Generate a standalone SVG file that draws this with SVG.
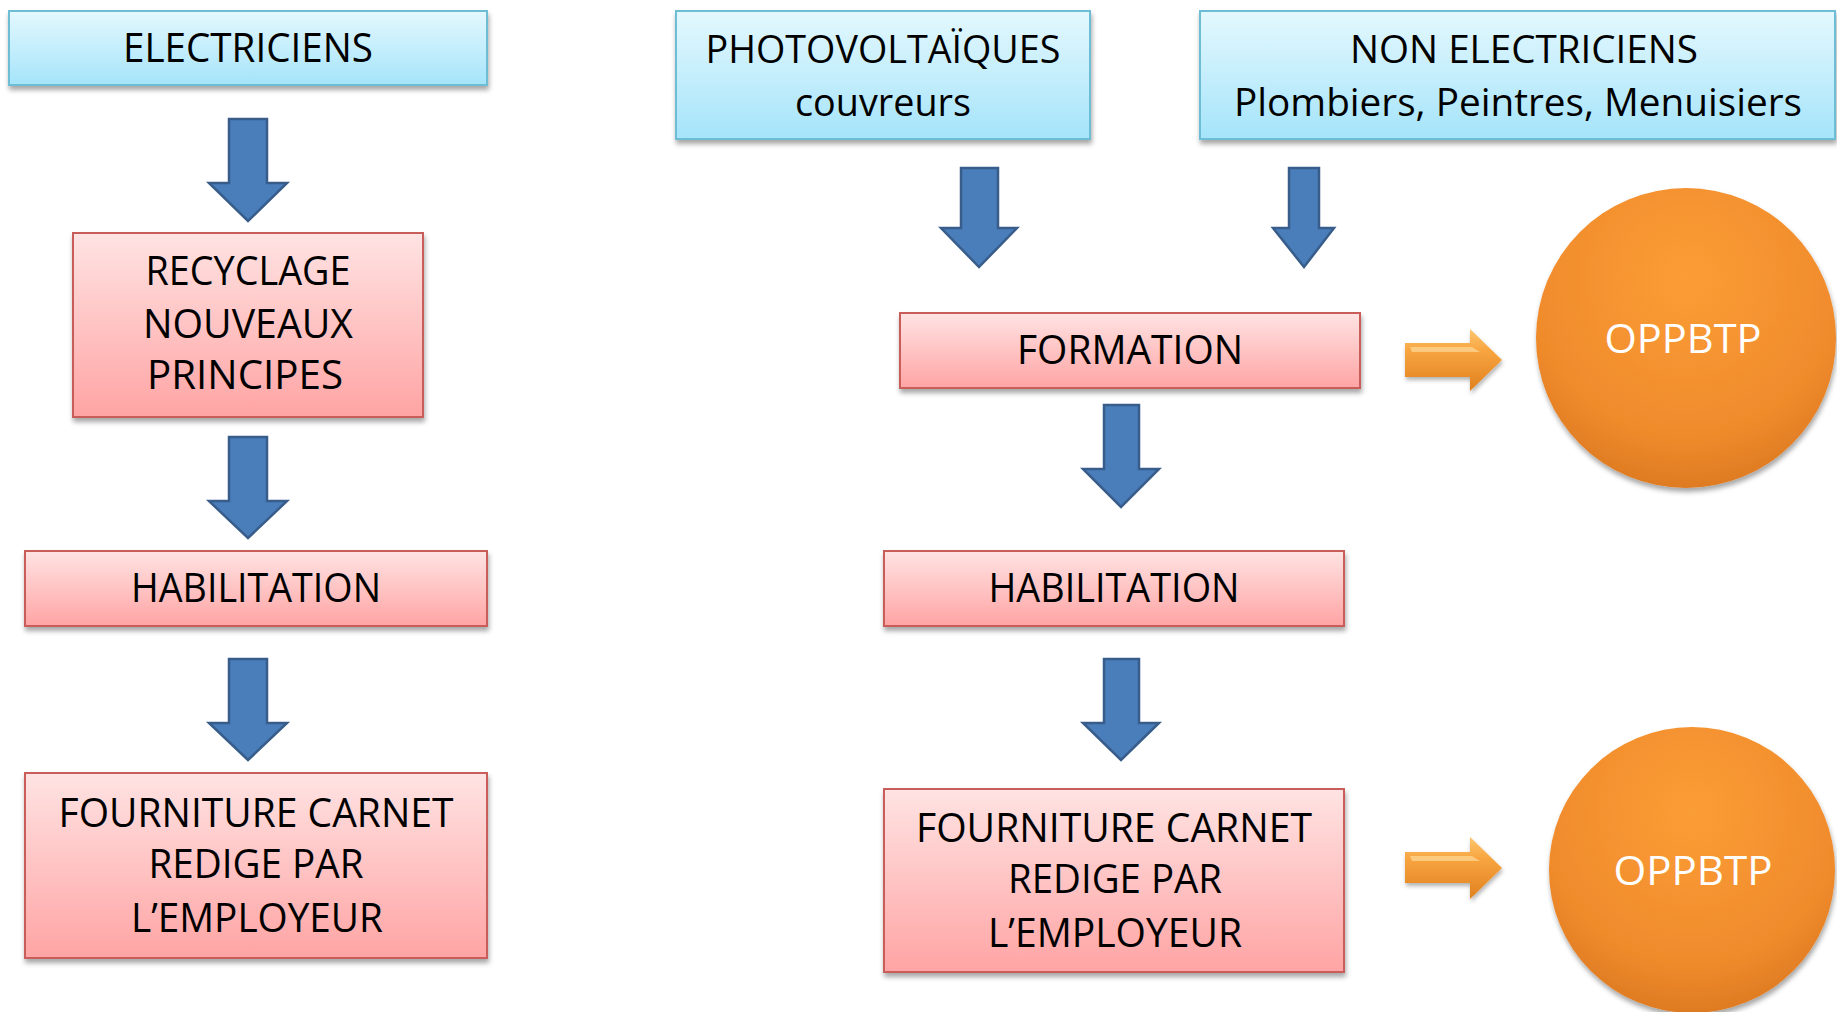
<svg xmlns="http://www.w3.org/2000/svg" width="1837" height="1012" viewBox="0 0 1837 1012">
<defs>
<linearGradient id="gBlue" x1="0" y1="0" x2="0" y2="1">
<stop offset="0" stop-color="#e4f8fe"/><stop offset="1" stop-color="#a5e4fa"/>
</linearGradient>
<linearGradient id="gPink" x1="0" y1="0" x2="0" y2="1">
<stop offset="0" stop-color="#ffe3e3"/><stop offset="1" stop-color="#ffa4a4"/>
</linearGradient>
<linearGradient id="gOrangeArrow" x1="0" y1="0" x2="0" y2="1">
<stop offset="0" stop-color="#fcc66e"/><stop offset="0.35" stop-color="#f8a540"/><stop offset="1" stop-color="#e0801e"/>
</linearGradient>
<radialGradient id="gCircle" cx="0.5" cy="0.3" r="0.75">
<stop offset="0" stop-color="#fb9d35"/><stop offset="0.7" stop-color="#f08b2c"/><stop offset="1" stop-color="#d9761f"/>
</radialGradient>
<filter id="shadow" x="-10%" y="-10%" width="120%" height="130%">
<feDropShadow dx="1" dy="4" stdDeviation="2.5" flood-color="#000" flood-opacity="0.35"/>
</filter>
<filter id="shadowSm" x="-20%" y="-20%" width="140%" height="140%">
<feDropShadow dx="1" dy="3" stdDeviation="2" flood-color="#000" flood-opacity="0.3"/>
</filter>
</defs>
<style>
.blue{fill:url(#gBlue);stroke:#6dbdd5;stroke-width:2}
.pink{fill:url(#gPink);stroke:#c95d5a;stroke-width:2}
.t{font-family:"Open Sans","Liberation Sans",sans-serif;font-size:41px;fill:#000;text-anchor:middle}
.s{font-size:38px}
.w{font-family:"Open Sans","Liberation Sans",sans-serif;font-size:41px;fill:#fff;text-anchor:middle}
.arrow{fill:#4a7ebb;stroke:#385d8a;stroke-width:2.5;stroke-linejoin:miter}
.oarrow{fill:url(#gOrangeArrow)}
.circle{fill:url(#gCircle)}
</style>
<rect width="1837" height="1012" fill="#fff"/>

<g id="connectors">
<path class="arrow" d="M229,119 H267 V183 H287 L248,221 L209,183 H229 Z"/>
<path class="arrow" d="M229,437 H267 V501 H287 L248,538 L209,501 H229 Z"/>
<path class="arrow" d="M229,659 H267 V723 H287 L248,760 L209,723 H229 Z"/>
<path class="arrow" d="M961,168 H998 V228 H1017 L979,267 L941,228 H961 Z"/>
<path class="arrow" d="M1289,168 H1319 V228 H1334 L1304,267 L1273,228 H1289 Z"/>
<path class="arrow" d="M1104,405 H1139 V469 H1159 L1121,507 L1083,469 H1104 Z"/>
<path class="arrow" d="M1104,659 H1139 V723 H1159 L1121,760 L1083,723 H1104 Z"/>
<g filter="url(#shadowSm)">
<path class="oarrow" d="M1405,343 H1470 V329 L1502,360 L1470,391 V377 H1405 Z"/>
<path class="oarrow" d="M1405,852 H1470 V837 L1502,868 L1470,899 V883 H1405 Z"/>
</g>
<path d="M1410,347 H1472 L1480,352 H1412 Z" fill="#fde3a8" opacity="0.6"/>
<path d="M1410,856 H1472 L1480,861 H1412 Z" fill="#fde3a8" opacity="0.6"/>
</g>

<g id="electriciens">
<rect class="blue" x="9" y="11" width="478" height="74" filter="url(#shadow)"/>
<text class="t" x="248" y="62" textLength="250" lengthAdjust="spacingAndGlyphs">ELECTRICIENS</text>
</g>
<g id="recyclage">
<rect class="pink" x="73" y="233" width="350" height="184" filter="url(#shadow)"/>
<text class="t" x="248" y="285" textLength="205" lengthAdjust="spacingAndGlyphs">RECYCLAGE</text>
<text class="t" x="248" y="338" textLength="210" lengthAdjust="spacingAndGlyphs">NOUVEAUX</text>
<text class="t" x="245" y="389" textLength="196" lengthAdjust="spacingAndGlyphs">PRINCIPES</text>
</g>
<g id="habilitation-left">
<rect class="pink" x="25" y="551" width="462" height="75" filter="url(#shadow)"/>
<text class="t" x="256" y="602" textLength="250" lengthAdjust="spacingAndGlyphs">HABILITATION</text>
</g>
<g id="fourniture-left">
<rect class="pink" x="25" y="773" width="462" height="185" filter="url(#shadow)"/>
<text class="t" x="256" y="827" textLength="395" lengthAdjust="spacingAndGlyphs">FOURNITURE CARNET</text>
<text class="t" x="256" y="878" textLength="215" lengthAdjust="spacingAndGlyphs">REDIGE PAR</text>
<text class="t" x="257" y="932" textLength="252" lengthAdjust="spacingAndGlyphs">L’EMPLOYEUR</text>
</g>

<g id="photovoltaiques">
<rect class="blue" x="676" y="11" width="414" height="128" filter="url(#shadow)"/>
<text class="t s" x="883" y="63" textLength="355" lengthAdjust="spacingAndGlyphs">PHOTOVOLTAÏQUES</text>
<text class="t s" x="883" y="116" textLength="176" lengthAdjust="spacingAndGlyphs">couvreurs</text>
</g>
<g id="non-electriciens">
<rect class="blue" x="1200" y="11" width="635" height="128" filter="url(#shadow)"/>
<text class="t s" x="1524" y="63" textLength="348" lengthAdjust="spacingAndGlyphs">NON ELECTRICIENS</text>
<text class="t s" x="1518" y="116" textLength="568" lengthAdjust="spacingAndGlyphs">Plombiers, Peintres, Menuisiers</text>
</g>
<g id="formation">
<rect class="pink" x="900" y="313" width="460" height="75" filter="url(#shadow)"/>
<text class="t" x="1130" y="364" textLength="226" lengthAdjust="spacingAndGlyphs">FORMATION</text>
</g>
<g id="habilitation-right">
<rect class="pink" x="884" y="551" width="460" height="75" filter="url(#shadow)"/>
<text class="t" x="1114" y="602" textLength="251" lengthAdjust="spacingAndGlyphs">HABILITATION</text>
</g>
<g id="fourniture-right">
<rect class="pink" x="884" y="789" width="460" height="183" filter="url(#shadow)"/>
<text class="t" x="1114" y="842" textLength="396" lengthAdjust="spacingAndGlyphs">FOURNITURE CARNET</text>
<text class="t" x="1115" y="893" textLength="214" lengthAdjust="spacingAndGlyphs">REDIGE PAR</text>
<text class="t" x="1115" y="947" textLength="254" lengthAdjust="spacingAndGlyphs">L’EMPLOYEUR</text>
</g>
<g id="oppbtp-1">
<circle class="circle" cx="1686" cy="338" r="150" filter="url(#shadow)"/>
<text class="w" x="1683" y="353" textLength="157" lengthAdjust="spacingAndGlyphs">OPPBTP</text>
</g>
<g id="oppbtp-2">
<circle class="circle" cx="1692" cy="870" r="143" filter="url(#shadow)"/>
<text class="w" x="1693" y="885" textLength="159" lengthAdjust="spacingAndGlyphs">OPPBTP</text>
</g>
</svg>
